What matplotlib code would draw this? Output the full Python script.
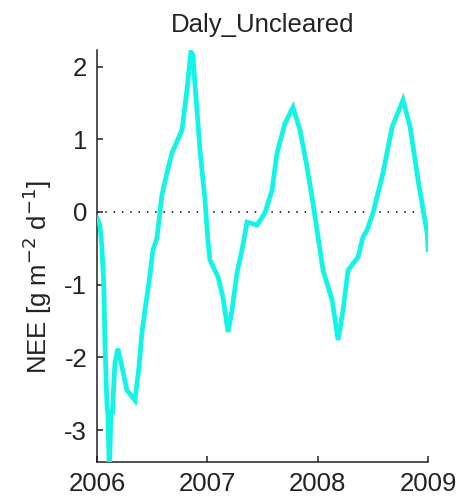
import numpy as np
import matplotlib
matplotlib.use("Agg")
import matplotlib.pyplot as plt

plt.rcParams["font.family"] = ["Liberation Sans", "DejaVu Sans"]

# decimal year and net ecosystem exchange, g m-2 d-1
year = [2006.000, 2006.027, 2006.045, 2006.063, 2006.073, 2006.091, 2006.100,
        2006.113, 2006.127, 2006.141, 2006.163, 2006.190, 2006.227, 2006.272,
        2006.345, 2006.381, 2006.408, 2006.435, 2006.471, 2006.508, 2006.544,
        2006.589, 2006.635, 2006.680, 2006.771, 2006.816, 2006.852, 2006.870,
        2006.888, 2006.916, 2006.934, 2006.979, 2007.006, 2007.024, 2007.097,
        2007.142, 2007.188, 2007.224, 2007.269, 2007.315, 2007.360, 2007.451,
        2007.523, 2007.587, 2007.632, 2007.704, 2007.777, 2007.840, 2007.904,
        2007.958, 2008.004, 2008.049, 2008.131, 2008.185, 2008.230, 2008.276,
        2008.366, 2008.412, 2008.448, 2008.502, 2008.593, 2008.675, 2008.774,
        2008.838, 2008.910, 2008.992, 2009.001]
nee = [-0.08, -0.18, -0.48, -1.03, -1.80, -2.65, -2.79,
       -3.62, -2.75, -2.75, -2.08, -1.88, -2.13, -2.45,
       -2.59, -2.13, -1.66, -1.35, -0.98, -0.52, -0.36,
       0.23, 0.54, 0.81, 1.13, 1.68, 2.20, 2.16,
       1.77, 1.22, 0.85, 0.17, -0.39, -0.66, -0.89,
       -1.17, -1.65, -1.35, -0.84, -0.52, -0.14, -0.18,
       -0.01, 0.30, 0.81, 1.22, 1.44, 1.13, 0.62,
       0.12, -0.34, -0.80, -1.21, -1.76, -1.35, -0.80,
       -0.62, -0.34, -0.25, -0.01, 0.54, 1.17, 1.54,
       1.17, 0.44, -0.29, -0.52]

xticks = [2006, 2007, 2008, 2009]
yticks = [-3, -2, -1, 0, 1, 2]

fig = plt.figure(figsize=(4.75, 4.98), dpi=100)
ax = fig.add_axes([0.204, 0.072, 0.697, 0.828])

ax.plot(year, nee, color="#10f5e5", lw=3.4, solid_joinstyle="miter", zorder=3)
ax.axhline(0, color="#222222", lw=1.3, ls=(0, (0.8, 3.8)), zorder=2)

ax.set_xlim(2006, 2009)
ax.set_ylim(-3.44, 2.23)
ax.set_xticks(xticks)
ax.set_xticklabels([str(t) for t in xticks])
ax.set_yticks(yticks)
ax.set_yticklabels([str(t) for t in yticks])

for side in ("top", "right"):
    ax.spines[side].set_visible(False)
for side in ("left", "bottom"):
    ax.spines[side].set_linewidth(1.1)
    ax.spines[side].set_color("#222222")
ax.tick_params(direction="in", length=4, width=1.1, colors="#222222",
               labelsize=18.5, pad=7)
for lab in ax.get_xticklabels() + ax.get_yticklabels():
    lab.set_color("#222222")

ax.set_title("Daly_Uncleared", fontsize=18.5, color="#222222", pad=13)
ax.set_ylabel(r"NEE [g m$^{-2}$ d$^{-1}$]", fontsize=18.5, color="#222222")
ax.yaxis.set_label_coords(-0.13, 0.45)

fig.savefig("out.png", dpi=100)
